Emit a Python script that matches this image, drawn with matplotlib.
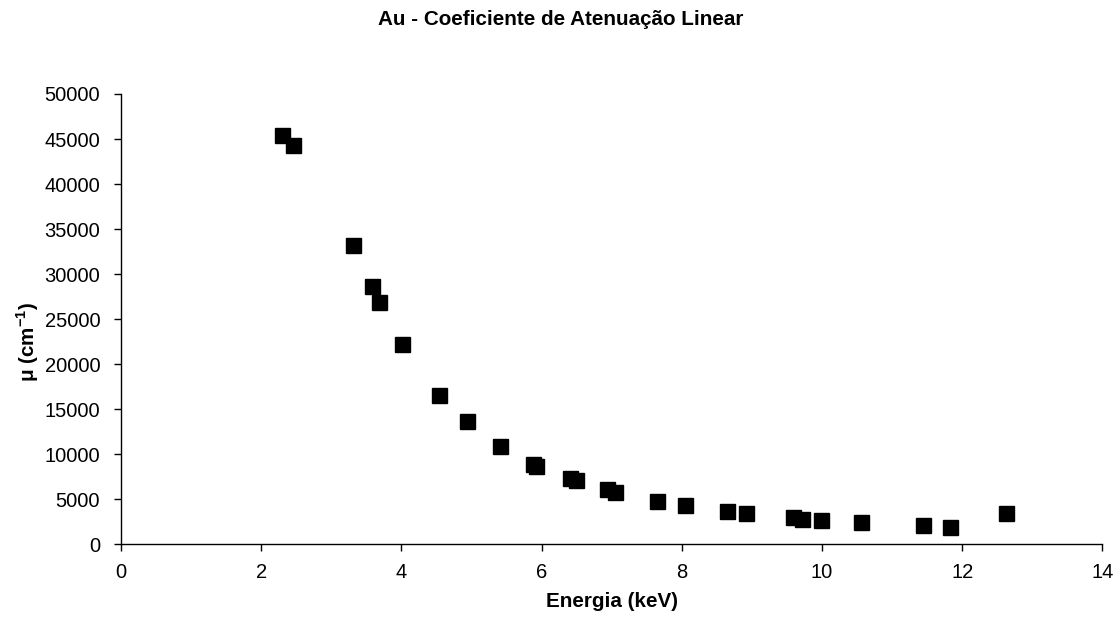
import matplotlib
matplotlib.use("Agg")
import matplotlib.pyplot as plt

plt.rcParams['font.family'] = ['Liberation Sans', 'DejaVu Sans']
plt.rcParams['mathtext.fontset'] = 'custom'
plt.rcParams['mathtext.rm'] = 'Liberation Sans'
plt.rcParams['mathtext.bf'] = 'Liberation Sans:bold'

# energy (keV) and linear attenuation coefficient (cm^-1) for gold
energia = [2.30, 2.46, 3.31, 3.58, 3.68, 4.01, 4.53, 4.93, 5.41, 5.88, 5.92,
           6.40, 6.49, 6.93, 7.05, 7.65, 8.04, 8.64, 8.91, 9.58, 9.72, 9.99,
           10.56, 11.44, 11.83, 12.62]
mu = [45500, 44350, 33260, 28720, 26940, 22170, 16580, 13690, 10910, 8900, 8700,
      7330, 7110, 6080, 5810, 4830, 4310, 3670, 3480, 2960, 2830, 2690,
      2410, 2060, 1910, 3480]

x_ticks = [0, 2, 4, 6, 8, 10, 12, 14]
y_ticks = [0, 5000, 10000, 15000, 20000, 25000, 30000, 35000, 40000, 45000, 50000]

fig = plt.figure(figsize=(11.16, 6.18), dpi=100)
ax = fig.add_axes([0.1084, 0.1197, 0.8795, 0.7282])

ax.plot(energia, mu, linestyle='none', marker='s', markersize=10.8,
        color='black', markeredgecolor='black')

ax.set_xlim(0, 14)
ax.set_ylim(0, 50000)
ax.set_xticks(x_ticks)
ax.set_yticks(y_ticks)
ax.tick_params(axis='both', direction='out', length=5, width=1, labelsize=14.5, color='black')
ax.tick_params(axis='y', pad=10)
ax.tick_params(axis='x', pad=9)

for side in ['top', 'right']:
    ax.spines[side].set_visible(False)
for side in ['left', 'bottom']:
    ax.spines[side].set_linewidth(1)

fig.text(0.5027, 0.968, 'Au - Coeficiente de Atenuação Linear', ha='center', va='center',
         fontsize=14.9, fontweight='bold')
ax.set_xlabel('Energia (keV)', fontsize=14.9, fontweight='bold', labelpad=7)
ax.set_ylabel(r'μ (cm$^{\mathbf{-1}}$)', fontsize=14.9, fontweight='bold')
ax.yaxis.set_label_coords(-0.081, 0.45)

fig.savefig('out.png', dpi=100)
